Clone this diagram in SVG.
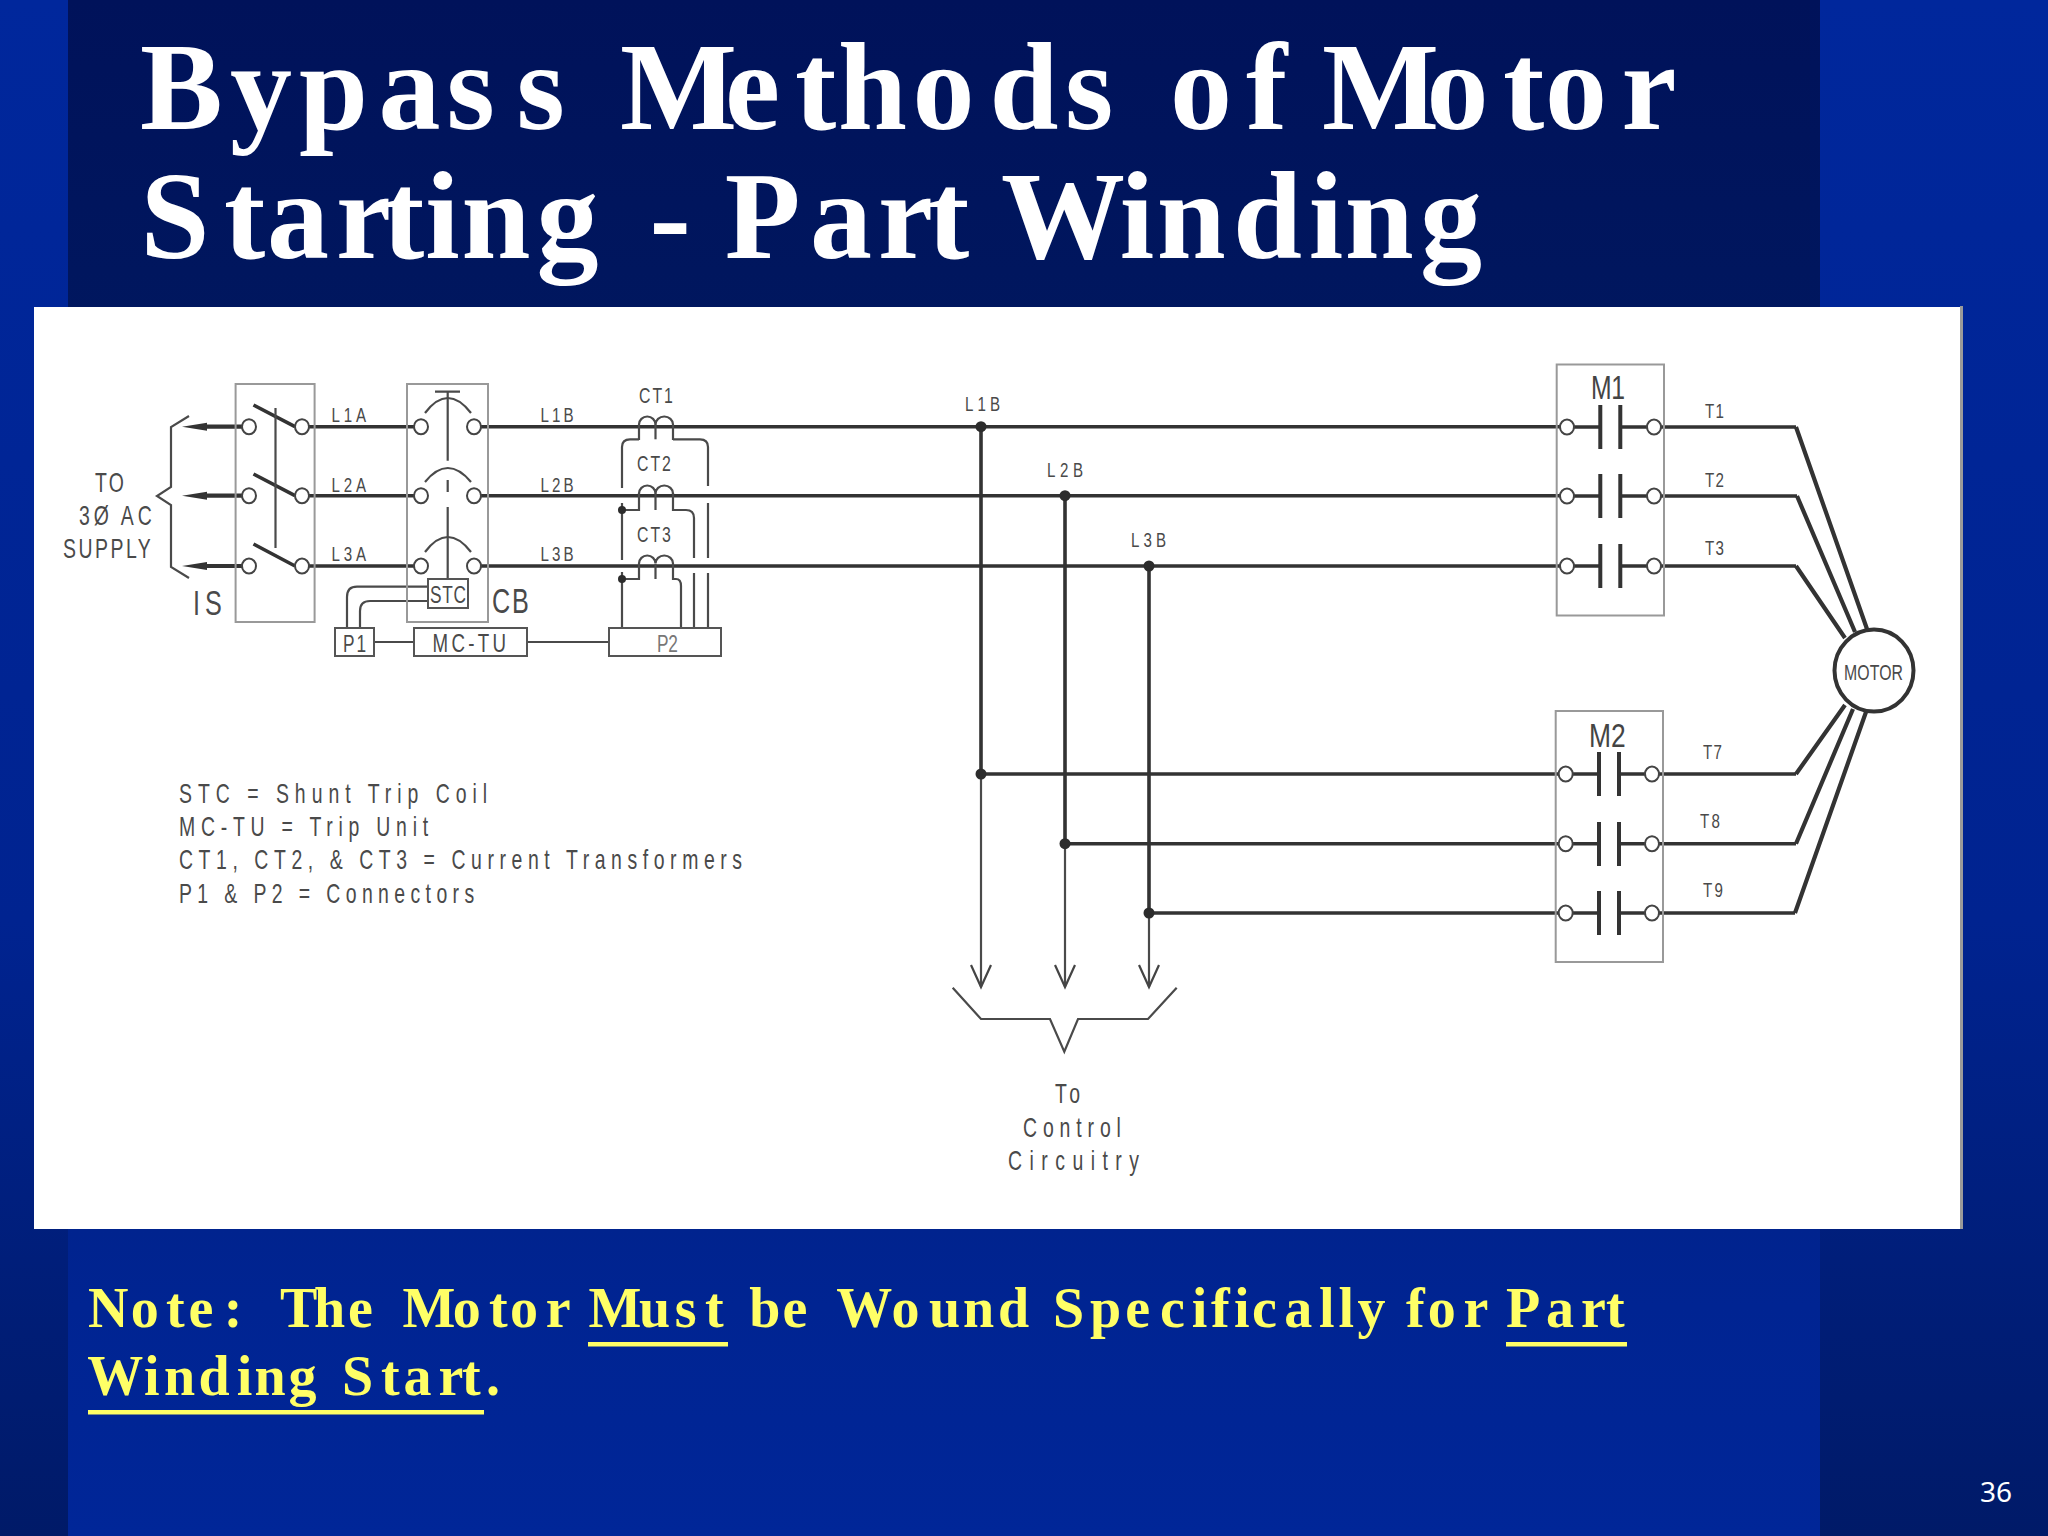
<svg xmlns="http://www.w3.org/2000/svg" width="2048" height="1536" viewBox="0 0 2048 1536">
<style>
.title{font-family:"Liberation Serif","Times New Roman",serif;font-weight:700;font-size:124px;fill:#fff;font-variant-ligatures:none;font-kerning:none}
.note{font-family:"Liberation Serif","Times New Roman",serif;font-weight:700;font-size:56px;fill:#ffff66;font-variant-ligatures:none;font-kerning:none}
.t{font-family:"Liberation Sans",Arial,sans-serif;fill:#4a4a4a;font-size:21px}
.lg{font-size:27px}
.xl{font-size:35px}
.box{fill:none;stroke:#999;stroke-width:2}
.pbox{fill:#fff;stroke:#555;stroke-width:2}
.w{fill:none;stroke:#333;stroke-width:3.6}
.hv{fill:none;stroke:#333;stroke-width:4.2}
.th{fill:none;stroke:#4a4a4a;stroke-width:2.2}
.term{fill:#fff;stroke:#444;stroke-width:2}
.dot{fill:#2c2c2c}
.plate{stroke:#333;stroke-width:4;fill:none}
</style>
<defs>
<linearGradient id="panel" x1="0" y1="0" x2="0" y2="1"><stop offset="0" stop-color="#00125a"/><stop offset=".22" stop-color="#00175f"/><stop offset=".85" stop-color="#002492"/><stop offset="1" stop-color="#002698"/></linearGradient>
<linearGradient id="side" x1="0" y1="0" x2="0" y2="1"><stop offset="0" stop-color="#00279c"/><stop offset=".6" stop-color="#002390"/><stop offset="1" stop-color="#001a68"/></linearGradient>
<marker id="solid" markerUnits="userSpaceOnUse" markerWidth="26" markerHeight="10" refX="0" refY="5" orient="auto"><path d="M0 1 L25 5 L0 9Z" fill="#333"/></marker>
<marker id="open" markerUnits="userSpaceOnUse" markerWidth="24" markerHeight="26" refX="11" refY="23" orient="0"><path d="M1 1 L11 23 L21 1" fill="none" stroke="#444" stroke-width="2.2"/></marker>
</defs>
<rect width="2048" height="1536" fill="url(#side)"/>
<rect x="68" width="1752" height="1536" fill="url(#panel)"/>
<text class="title" y="129.3" x="140 230 299 378.5 446.5 516.5 590 620 725 795 838 912.5 989.5 1065 1130 1170 1246 1300 1322 1426.5 1503 1545 1621.5">Bypass Methods of Motor</text>
<text class="title" y="258.3" x="140.5 224 267 336 383 425.3 461.4 536.5 620 649.5 700 724.7 810 878 928 980 1001 1119.7 1156.7 1233 1308.7 1344.7 1420">Starting - Part Winding</text>
<rect x="1960" y="306" width="3" height="923" fill="#9a9a9a"/>
<rect x="34" y="307" width="1926" height="922" fill="#fff"/>

<g id="connectors">
<path class="hv" d="M242 426.7H207" marker-end="url(#solid)"/>
<path class="hv" d="M242 495.7H207" marker-end="url(#solid)"/>
<path class="hv" d="M242 566H207" marker-end="url(#solid)"/>
<path class="th" d="M189 416L171 427V487L157 496L171 505V567L189 578"/>
<path class="w" d="M309 426.7H414M309 495.7H414M309 566H414"/>
<path class="w" d="M481 426.7H1560M481 495.7H1560M481 566H1560"/>
<path class="w" d="M981 426.7V774H1558M1065 495.7V843.7H1558M1149 566V913H1558"/>
<path class="th" d="M981 774V987" marker-end="url(#open)"/>
<path class="th" d="M1065 843.7V987" marker-end="url(#open)"/>
<path class="th" d="M1149 913V987" marker-end="url(#open)"/>
<path class="th" d="M952.7 987.7L981 1019H1050L1064.3 1051.7L1078 1019H1148L1176.7 987.7"/>
<circle class="dot" cx="981" cy="426.7" r="5.5"/><circle class="dot" cx="1065" cy="495.7" r="5.5"/><circle class="dot" cx="1149" cy="566" r="5.5"/>
<circle class="dot" cx="981" cy="774" r="5.5"/><circle class="dot" cx="1065" cy="843.7" r="5.5"/><circle class="dot" cx="1149" cy="913" r="5.5"/>
<path class="w" d="M1661 427H1796M1661 496H1797M1661 566H1796M1659 774H1796M1659 843.7H1796M1659 913H1795"/>
<path class="hv" stroke-linejoin="round" d="M1796 427L1867 629M1797 496L1855 632M1796 566L1845 638M1796 774L1845 705M1796 843.7L1853 709M1795 913L1866 712"/>
<path class="th" d="M374 642H414M527 642H609"/>
<path class="th" d="M428 586.7H357Q347 586.7 347 597V628M428 601H370Q360 601 360 611V628"/>
<path class="th" d="M639 439.3H630Q622 439.3 622 447V488M622 503V560M622 572V628"/>
<path class="th" d="M673 439.3H700Q708 439.3 708 447V486M708 503V558M708 573V628"/>
<path class="th" d="M655.5 424V439.3"/>
<path class="th" d="M639 493V510H622M655.5 493V510M673 493V510H686Q694 510 694 518V558M694 573V628"/>
<path class="th" d="M639 564V579H622M655.5 564V579M673 564V579H676Q681 579 681 586V628"/>
<circle class="dot" cx="622" cy="510" r="4"/><circle class="dot" cx="622" cy="579" r="4"/>
</g>

<g id="node-is">
<rect class="box" x="235.6" y="384" width="79" height="238"/>
<path class="w" d="M253.5 405L295 426.7M253.5 474L295 495.7M253.5 544L295 566"/>
<path class="th" d="M275.5 408V548"/>
<ellipse class="term" cx="249" cy="426.7" rx="7" ry="7.5"/><ellipse class="term" cx="302" cy="426.7" rx="7" ry="7.5"/>
<ellipse class="term" cx="249" cy="495.7" rx="7" ry="7.5"/><ellipse class="term" cx="302" cy="495.7" rx="7" ry="7.5"/>
<ellipse class="term" cx="249" cy="566" rx="7" ry="7.5"/><ellipse class="term" cx="302" cy="566" rx="7" ry="7.5"/>
<text class="t xl" transform="translate(193 615) scale(.72 1)" textLength="40">IS</text>
</g>

<g id="node-cb">
<rect class="box" x="407" y="384" width="81" height="238"/>
<path class="th" d="M435 391.7H460M447.7 391.7V460.7M447.7 480V492M447.7 507V579"/>
<path class="th" d="M425 413Q447.7 383 471 413M425 482Q447.7 454 471 482M425 552Q447.7 522 471 552"/>
<ellipse class="term" cx="421" cy="426.7" rx="7" ry="7.5"/><ellipse class="term" cx="474" cy="426.7" rx="7" ry="7.5"/>
<ellipse class="term" cx="421" cy="495.7" rx="7" ry="7.5"/><ellipse class="term" cx="474" cy="495.7" rx="7" ry="7.5"/>
<ellipse class="term" cx="421" cy="566" rx="7" ry="7.5"/><ellipse class="term" cx="474" cy="566" rx="7" ry="7.5"/>
<text class="t xl" transform="translate(492 613) scale(.72 1)" textLength="51">CB</text>
</g>

<g id="node-stc"><rect class="pbox" x="428" y="579" width="40" height="29"/><text class="t" transform="translate(430 603) scale(.72 1)" textLength="50" style="font-size:24px">STC</text></g>
<g id="node-p1"><rect class="pbox" x="335" y="628" width="39" height="28"/><text class="t" transform="translate(343 652) scale(.72 1)" textLength="32" style="font-size:24px">P1</text></g>
<g id="node-mctu"><rect class="pbox" x="414" y="628" width="113" height="28"/><text class="t" transform="translate(432.5 652) scale(.72 1)" textLength="102" style="font-size:26px">MC-TU</text></g>
<g id="node-p2"><rect class="pbox" x="609" y="628" width="112" height="28"/><text class="t" transform="translate(657 652) scale(.72 1)" textLength="29" style="font-size:24px;fill:#777">P2</text></g>

<g id="node-ct">
<path class="th" d="M639 440V424.5A8.25 8 0 0 1 655.5 424.5A8.75 8 0 0 1 673 424.5V440"/>
<path class="th" d="M639 493V493.5A8.25 8 0 0 1 655.5 493.5A8.75 8 0 0 1 673 493.5V494"/>
<path class="th" d="M639 564V563.5A8.25 8 0 0 1 655.5 563.5A8.75 8 0 0 1 673 563.5V564"/>
<text class="t" transform="translate(639 403) scale(.72 1)" textLength="47" style="font-size:22px">CT1</text>
<text class="t" transform="translate(637 470.7) scale(.72 1)" textLength="47" style="font-size:22px">CT2</text>
<text class="t" transform="translate(637 542) scale(.72 1)" textLength="47" style="font-size:22px">CT3</text>
</g>

<g id="node-m1">
<rect class="box" x="1556.7" y="364.5" width="107.3" height="251"/>
<path class="plate" d="M1600.3 405V449M1620.3 405V449M1600.3 474V518M1620.3 474V518M1600.3 544V588M1620.3 544V588"/>
<path class="w" d="M1574 427H1600M1620 427H1647M1574 496H1600M1620 496H1647M1574 566H1600M1620 566H1647"/>
<ellipse class="term" cx="1567" cy="427" rx="7" ry="7.5"/><ellipse class="term" cx="1654" cy="427" rx="7" ry="7.5"/>
<ellipse class="term" cx="1567" cy="496" rx="7" ry="7.5"/><ellipse class="term" cx="1654" cy="496" rx="7" ry="7.5"/>
<ellipse class="term" cx="1567" cy="566" rx="7" ry="7.5"/><ellipse class="term" cx="1654" cy="566" rx="7" ry="7.5"/>
<text class="t" transform="translate(1591 399) scale(.75 1)" textLength="45.3" style="font-size:33px;fill:#444">M1</text>
</g>

<g id="node-m2">
<rect class="box" x="1555.7" y="711" width="107.3" height="251"/>
<path class="plate" d="M1599 752V796M1619 752V796M1599 822V866M1619 822V866M1599 891V935M1619 891V935"/>
<path class="w" d="M1573 774H1599M1619 774H1645M1573 843.7H1599M1619 843.7H1645M1573 913H1599M1619 913H1645"/>
<ellipse class="term" cx="1565.7" cy="774" rx="7" ry="7.5"/><ellipse class="term" cx="1652" cy="774" rx="7" ry="7.5"/>
<ellipse class="term" cx="1565.7" cy="843.7" rx="7" ry="7.5"/><ellipse class="term" cx="1652" cy="843.7" rx="7" ry="7.5"/>
<ellipse class="term" cx="1565.7" cy="913" rx="7" ry="7.5"/><ellipse class="term" cx="1652" cy="913" rx="7" ry="7.5"/>
<text class="t" transform="translate(1589 747) scale(.8 1)" textLength="46" style="font-size:33px;fill:#444">M2</text>
</g>

<g id="node-motor">
<ellipse cx="1874" cy="670.6" rx="39.5" ry="41" fill="#fff" stroke="#333" stroke-width="4"/>
<text class="t" transform="translate(1844 680) scale(.72 1)" textLength="82" style="font-size:22px">MOTOR</text>
</g>

<g id="labels">
<text class="t" transform="translate(331.5 421.7) scale(.72 1)" textLength="48">L1A</text>
<text class="t" transform="translate(331.5 491.7) scale(.72 1)" textLength="48">L2A</text>
<text class="t" transform="translate(331.5 561) scale(.72 1)" textLength="48">L3A</text>
<text class="t" transform="translate(540.5 421.7) scale(.72 1)" textLength="46">L1B</text>
<text class="t" transform="translate(540.5 491.7) scale(.72 1)" textLength="46">L2B</text>
<text class="t" transform="translate(540.5 561) scale(.72 1)" textLength="46">L3B</text>
<text class="t" transform="translate(965 411) scale(.72 1)" textLength="48.6">L1B</text>
<text class="t" transform="translate(1047 477) scale(.72 1)" textLength="50">L2B</text>
<text class="t" transform="translate(1131 547) scale(.72 1)" textLength="48.6">L3B</text>
<text class="t" transform="translate(1705 418) scale(.72 1)" textLength="26.4">T1</text>
<text class="t" transform="translate(1705 487) scale(.72 1)" textLength="26.4">T2</text>
<text class="t" transform="translate(1705 555) scale(.72 1)" textLength="26.4">T3</text>
<text class="t" transform="translate(1703 759) scale(.72 1)" textLength="26.4">T7</text>
<text class="t" transform="translate(1700 828) scale(.72 1)" textLength="27.8">T8</text>
<text class="t" transform="translate(1703 897) scale(.72 1)" textLength="27.8">T9</text>
<text class="t lg" transform="translate(95 492) scale(.72 1)" textLength="40">TO</text>
<text class="t lg" transform="translate(79 525) scale(.72 1)" textLength="101" xml:space="preserve">3Ø AC</text>
<text class="t lg" transform="translate(63 558) scale(.72 1)" textLength="122">SUPPLY</text>
<text class="t lg" transform="translate(179 803.3) scale(.72 1)" textLength="428">STC = Shunt Trip Coil</text>
<text class="t lg" transform="translate(179 836) scale(.72 1)" textLength="346">MC-TU = Trip Unit</text>
<text class="t lg" transform="translate(179 869) scale(.72 1)" textLength="782">CT1, CT2, &amp; CT3 = Current Transformers</text>
<text class="t lg" transform="translate(179 902.7) scale(.72 1)" textLength="410">P1 &amp; P2 = Connectors</text>
<text class="t lg" transform="translate(1055 1102.7) scale(.72 1)" textLength="35">To</text>
<text class="t lg" transform="translate(1023 1136.7) scale(.72 1)" textLength="136">Control</text>
<text class="t lg" transform="translate(1008 1170) scale(.72 1)" textLength="182">Circuitry</text>
</g>

<text class="note" y="1326.7" x="88 130.7 166 188.6 223.7 260 280 314 348 385 402.5 452.7 489 510 545.7 575 588.5 639 674.8 705 735 749.2 782.6 820 836.2 891.6 929 963 998 1035 1053 1090 1125.3 1160 1191.8 1211 1234 1252 1284.3 1319 1338.4 1357.4 1395 1406 1427.7 1463.4 1495 1506 1545.9 1581 1606">Note: The Motor Must be Wound Specifically for Part</text>
<text class="note" y="1395" x="87.3 144 164 198.6 236.8 254.5 288.4 325 342 381 403.6 438.4 462 486">Winding Start.</text>
<rect x="588" y="1342" width="140" height="4.5" fill="#ffff66"/>
<rect x="1506" y="1342" width="121" height="4.5" fill="#ffff66"/>
<rect x="88" y="1410" width="396" height="4.5" fill="#ffff66"/>
<text x="1980" y="1501.7" style="font-family:'Noto Sans','Open Sans',sans-serif;font-size:28px;fill:#fff">36</text>
</svg>
